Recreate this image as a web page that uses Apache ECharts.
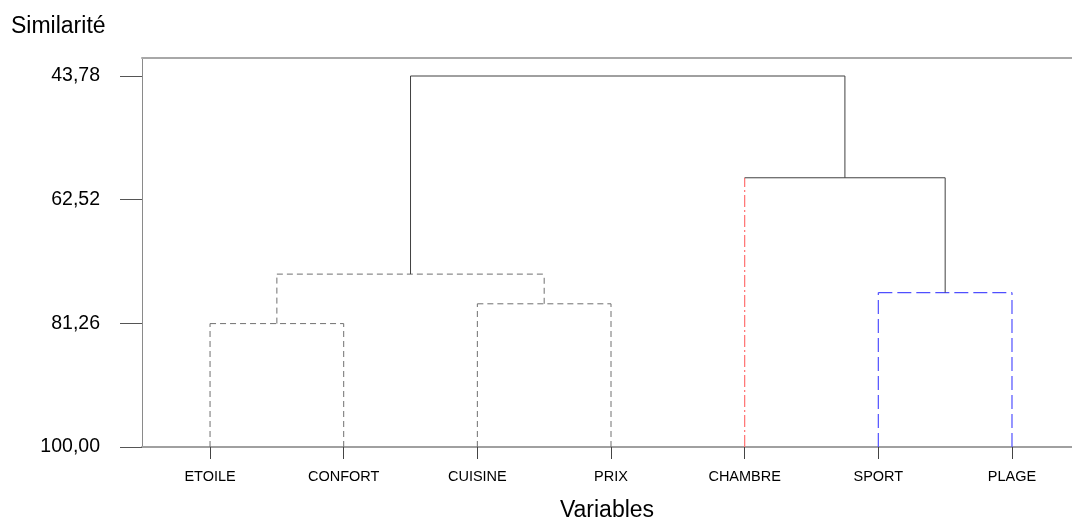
<!DOCTYPE html>
<html>
<head>
<meta charset="utf-8">
<script src="https://cdn.jsdelivr.net/npm/echarts@6/dist/echarts.min.js"></script>
<style>
html,body{margin:0;padding:0;background:#fff;}
#chart{width:1072px;height:525px;}
</style>
</head>
<body>
<div id="chart"></div>
<script>
// ---- data ----
const variables = ['ETOILE', 'CONFORT', 'CUISINE', 'PRIX', 'CHAMBRE', 'SPORT', 'PLAGE'];
const yTicks = [43.78, 62.52, 81.26, 100.00];
// merges (node ids: leaves 0..6, merged clusters 7..12 in order)
const mergeLeft  = [0, 2, 7, 5, 4, 9];
const mergeRight = [1, 3, 8, 6, 10, 11];
const mergeSim   = [81.3, 78.3, 73.8, 76.6, 59.2, 43.78];
const leafSim = 100;

// ---- styles ----
const S_GRAY  = { color: '#707070', width: 1, type: [6, 4] };
const S_RED   = { color: '#ff7070', width: 1.2, type: [12, 3, 2, 3] };
const S_BLUE  = { color: '#4f4fff', width: 1.2, type: [14, 5] };
const S_SOLID = { color: '#404040', width: 1, type: 'solid' };
// vertical style of each node (line going up to its parent)
const nodeStyle = [S_GRAY, S_GRAY, S_GRAY, S_GRAY, S_RED, S_BLUE, S_BLUE,
                   S_GRAY, S_GRAY, S_SOLID, S_SOLID, S_SOLID, S_SOLID];
// horizontal style of each merge
const barStyle = [S_GRAY, S_GRAY, S_GRAY, S_BLUE, S_SOLID, S_SOLID];

// ---- build node positions ----
const nodeX = variables.map((_, i) => i);
const nodeY = variables.map(() => leafSim);
const series = [];
mergeLeft.forEach((a, k) => {
  const b = mergeRight[k];
  const h = mergeSim[k];
  const xa = nodeX[a], xb = nodeX[b];
  series.push({ type: 'line', data: [[xa, nodeY[a]], [xa, h]], lineStyle: nodeStyle[a] });
  series.push({ type: 'line', data: [[xb, nodeY[b]], [xb, h]], lineStyle: nodeStyle[b] });
  series.push({ type: 'line', data: [[xa, h], [xb, h]], lineStyle: barStyle[k] });
  nodeX.push((xa + xb) / 2);
  nodeY.push(h);
});
series.forEach(s => { s.symbol = 'none'; s.silent = true; s.animation = false; });

const FONT = 'Liberation Sans, Arial, sans-serif';
const X_MIN = -0.509, X_MAX = 6.449;
const chart = echarts.init(document.getElementById('chart'), null, { renderer: 'canvas' });
chart.setOption({
  animation: false,
  backgroundColor: '#ffffff',
  title: {
    text: 'Similarité', left: 11, top: 15, padding: 0,
    textStyle: { fontFamily: FONT, fontSize: 23, fontWeight: 'normal', color: '#000' }
  },
  grid: { left: 142, right: 0, top: 58, bottom: 78, containLabel: false, outerBoundsMode: 'none' },
  xAxis: [{
    type: 'value', min: X_MIN, max: X_MAX, position: 'bottom',
    name: 'Variables', nameLocation: 'middle', nameGap: 52,
    nameTextStyle: { fontFamily: FONT, fontSize: 23, color: '#000' },
    axisLine: { show: true, onZero: false, lineStyle: { color: '#a0a0a0', width: 2 } },
    axisTick: { show: true, length: 12, customValues: variables.map((_, i) => i), lineStyle: { color: '#444', width: 1 } },
    axisLabel: {
      show: true, margin: 22, customValues: variables.map((_, i) => i),
      formatter: v => variables[Math.round(v)] || '',
      fontFamily: FONT, fontSize: 14.5, color: '#000'
    },
    splitLine: { show: false }
  }, {
    type: 'value', min: X_MIN, max: X_MAX, position: 'top',
    axisLine: { show: true, onZero: false, lineStyle: { color: '#a8a8a8', width: 2 } },
    axisTick: { show: false }, axisLabel: { show: false }, splitLine: { show: false }
  }],
  yAxis: {
    type: 'value', inverse: true, min: 41.05, max: 100,
    axisLine: { show: true, onZero: false, lineStyle: { color: '#8a8a8a', width: 1 } },
    axisTick: { show: true, length: 22, customValues: yTicks, lineStyle: { color: '#555', width: 1 } },
    axisLabel: {
      show: true, margin: 42, customValues: yTicks,
      formatter: v => v.toFixed(2).replace('.', ','),
      fontFamily: FONT, fontSize: 19.5, color: '#000'
    },
    splitLine: { show: false }
  },
  series: series
});
</script>
</body>
</html>
